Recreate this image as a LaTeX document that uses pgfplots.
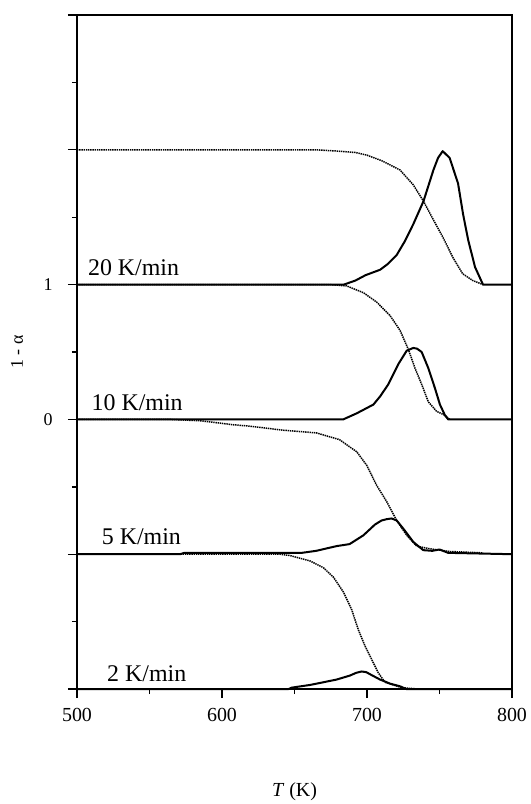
\documentclass[border=0pt]{standalone}
\usepackage{fontspec}
\setmainfont{Liberation Serif}
\usepackage{pgfplots}
\pgfplotsset{compat=1.18}
\tikzset{
  dtgcurve/.style={black, line width=2bp, line join=round},
  alphacurve/.style={black, line width=1.5bp, dash pattern=on 1.4bp off 0.8bp},
}
\begin{document}
\begin{tikzpicture}
\begin{axis}[
  scale only axis, width=435bp, height=674bp,
  xmin=500, xmax=800, ymin=-2, ymax=3,
  clip=false,
  xtick={500,600,700,800}, minor xtick={550,650,750},
  ytick={-2,-1,0,1,2,3}, yticklabels={,,0,1,,},
  minor ytick={-1.5,-0.5,0.5,1.5,2.5},
  tick align=outside, xtick pos=left, ytick pos=left,
  major tick length=9bp, minor tick length=5bp,
  every tick/.style={black, line width=1.4bp},
  axis line style={line width=1.8bp},
  /pgf/number format/assume math mode=true,
  xticklabel style={font=\fontsize{20}{20}\selectfont, yshift=-7bp},
  yticklabel style={font=\fontsize{18}{18}\selectfont, xshift=-12bp},
  xlabel={\textit{T} (K)},
  xlabel style={font=\fontsize{20}{20}\selectfont, at={(axis description cs:0.5,0)}, anchor=center, yshift=-103bp},
  ylabel={1 - α},
  ylabel style={font=\fontsize{18}{18}\selectfont, at={(axis description cs:0,0.5)}, anchor=center, yshift=60bp},
]
% 20 K/min
\addplot[alphacurve] coordinates {(500,2) (665,2) (680,1.99) (692,1.98) (700,1.96) (710,1.92) (722.8,1.85) (731.9,1.74) (738.9,1.62) (745.8,1.48) (752.4,1.35) (759.3,1.20) (766,1.08) (773,1.03) (780,1.0)};
\addplot[dtgcurve] coordinates {(500,1) (684,1) (692,1.03) (699,1.07) (709,1.11) (714,1.15) (720.5,1.22) (726,1.32) (732,1.45) (739,1.62) (745.8,1.85) (749,1.94) (752.2,1.99) (757,1.94) (762.8,1.75) (766.3,1.52) (769.8,1.33) (774.5,1.13) (780,1.0) (800,1.0)};
% 10 K/min
\addplot[alphacurve] coordinates {(500,1) (674.5,1) (686,0.99) (697.5,0.94) (706.7,0.87) (715.9,0.77) (722.8,0.66) (728.5,0.52) (733.1,0.38) (737.7,0.26) (742.3,0.13) (748,0.06) (753.8,0.03) (757,0)};
\addplot[dtgcurve] coordinates {(500,0) (683.6,0) (692.9,0.045) (704.4,0.11) (709,0.17) (714.7,0.26) (721.6,0.41) (727.4,0.51) (731.9,0.53) (734.5,0.525) (737.7,0.50) (742.3,0.38) (746.9,0.23) (750.3,0.11) (753.8,0.03) (756,0) (800,0)};
% 5 K/min
\addplot[alphacurve] coordinates {(500,0) (564,0) (585,-0.01) (608,-0.04) (619,-0.05) (642,-0.08) (665,-0.10) (681,-0.15) (692.9,-0.24) (699.8,-0.34) (706.7,-0.49) (713.6,-0.61) (720.5,-0.75) (727.4,-0.86) (734.3,-0.94) (743.4,-0.96) (757.2,-0.98) (780,-0.99)};
\addplot[dtgcurve] coordinates {(500,-1) (571,-1) (574,-0.99) (655,-0.99) (665,-0.975) (679,-0.94) (688,-0.925) (697.5,-0.86) (705.5,-0.78) (710,-0.75) (713.6,-0.74) (717,-0.735) (720.5,-0.75) (725,-0.81) (732,-0.91) (738.8,-0.97) (745,-0.975) (750,-0.965) (756,-0.99) (800,-1)};
% 2 K/min
\addplot[alphacurve] coordinates {(500,-1) (640,-1) (646.9,-1.01) (660.7,-1.05) (669.9,-1.10) (676.8,-1.17) (683.7,-1.28) (689.4,-1.41) (694,-1.56) (698.6,-1.68) (703.2,-1.78) (707.8,-1.88) (712.4,-1.95) (718.2,-1.97) (724,-1.99) (735,-2)};
\addplot[dtgcurve] coordinates {(500,-2) (646,-2) (648,-1.99) (660.7,-1.97) (669.9,-1.95) (679,-1.93) (688.3,-1.90) (692.5,-1.88) (696.3,-1.87) (699.5,-1.875) (702,-1.89) (709,-1.93) (715.9,-1.96) (722.8,-1.98) (727,-2) (800,-2)};
% labels
\node[anchor=base west, inner sep=0, yshift=9bp, font=\fontsize{24}{24}\selectfont] at (axis cs:507.5,1) {20 K/min};
\node[anchor=base west, inner sep=0, yshift=9bp, font=\fontsize{24}{24}\selectfont] at (axis cs:510,0) {10 K/min};
\node[anchor=base west, inner sep=0, yshift=9.5bp, font=\fontsize{24}{24}\selectfont] at (axis cs:517,-1) {5 K/min};
\node[anchor=base west, inner sep=0, yshift=7.5bp, font=\fontsize{24}{24}\selectfont] at (axis cs:520.7,-2) {2 K/min};
\end{axis}
\pgfresetboundingbox
\path[use as bounding box] (current axis.south west) ++(-77bp,-115bp) rectangle ++(531bp,804bp);
\end{tikzpicture}
\end{document}
